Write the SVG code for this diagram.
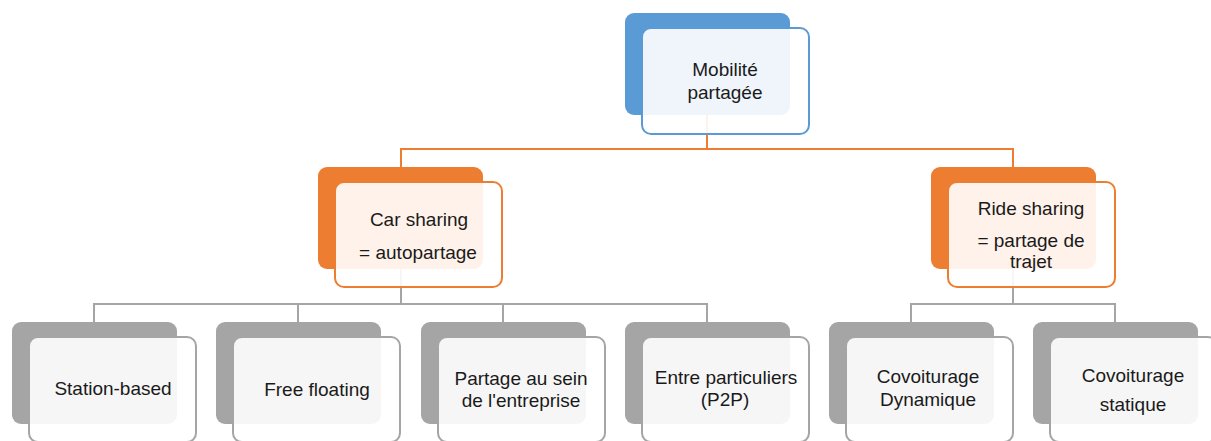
<svg xmlns="http://www.w3.org/2000/svg" width="1211" height="441" viewBox="0 0 1211 441">
<style>
.back{stroke:none}
.front{fill:#ffffff;fill-opacity:0.9;stroke-width:2}
.blue .back{fill:#5B9BD5}.blue .front{stroke:#5B9BD5}
.orange .back{fill:#ED7D31}.orange .front{stroke:#ED7D31}
.gray .back{fill:#A5A5A5}.gray .front{stroke:#A5A5A5}
text{font-family:"Liberation Sans",Arial,sans-serif;font-size:19px;fill:#1a1a1a;text-anchor:middle}
.conn path{fill:none;stroke-width:2}
</style>
<rect width="1211" height="441" fill="#ffffff"/>
<g id="connectors" class="conn">
<path d="M707 115 V149 M401 167 V149 H1013 V167" stroke="#ED7D31"/>
<path d="M401 269 V304 M94 322 V304 H707 V322 M298 304 V322 M503 304 V322 M1013 269 V304 M911 322 V304 H1115 V322" stroke="#A5A5A5"/>
</g>
<g id="node-mobilite" class="blue">
<rect class="back" x="625" y="13" width="165" height="102" rx="9"/>
<rect class="front" x="642" y="28" width="167" height="106" rx="9"/>
<text x="725" y="76">Mobilité</text>
<text x="725" y="99">partagée</text>
</g>
<g id="node-car" class="orange">
<rect class="back" x="318" y="167" width="165" height="102" rx="9"/>
<rect class="front" x="335" y="182" width="167" height="105" rx="9"/>
<text x="419" y="226">Car sharing</text>
<text x="418" y="259">= autopartage</text>
</g>
<g id="node-ride" class="orange">
<rect class="back" x="931" y="167" width="165" height="102" rx="9"/>
<rect class="front" x="948" y="182" width="167" height="105" rx="9"/>
<text x="1031" y="215">Ride sharing</text>
<text x="1031" y="247">= partage de</text>
<text x="1031" y="268">trajet</text>
</g>
<g id="node-station" class="gray">
<rect class="back" x="12" y="322" width="165" height="102" rx="9"/>
<rect class="front" x="29" y="337" width="167" height="105" rx="9"/>
<text x="113" y="395">Station-based</text>
</g>
<g id="node-free" class="gray">
<rect class="back" x="216" y="322" width="165" height="102" rx="9"/>
<rect class="front" x="233" y="337" width="167" height="105" rx="9"/>
<text x="317" y="396">Free floating</text>
</g>
<g id="node-entreprise" class="gray">
<rect class="back" x="421" y="322" width="165" height="102" rx="9"/>
<rect class="front" x="438" y="337" width="167" height="105" rx="9"/>
<text x="521" y="385">Partage au sein</text>
<text x="521" y="407">de l'entreprise</text>
</g>
<g id="node-p2p" class="gray">
<rect class="back" x="625" y="322" width="165" height="102" rx="9"/>
<rect class="front" x="642" y="337" width="167" height="105" rx="9"/>
<text x="726" y="384">Entre particuliers</text>
<text x="725" y="406">(P2P)</text>
</g>
<g id="node-dynamique" class="gray">
<rect class="back" x="829" y="322" width="165" height="102" rx="9"/>
<rect class="front" x="846" y="337" width="167" height="105" rx="9"/>
<text x="928" y="383">Covoiturage</text>
<text x="928" y="406">Dynamique</text>
</g>
<g id="node-statique" class="gray">
<rect class="back" x="1033" y="322" width="165" height="102" rx="9"/>
<rect class="front" x="1050" y="337" width="167" height="105" rx="9"/>
<text x="1133" y="382">Covoiturage</text>
<text x="1133" y="411">statique</text>
</g>
</svg>
